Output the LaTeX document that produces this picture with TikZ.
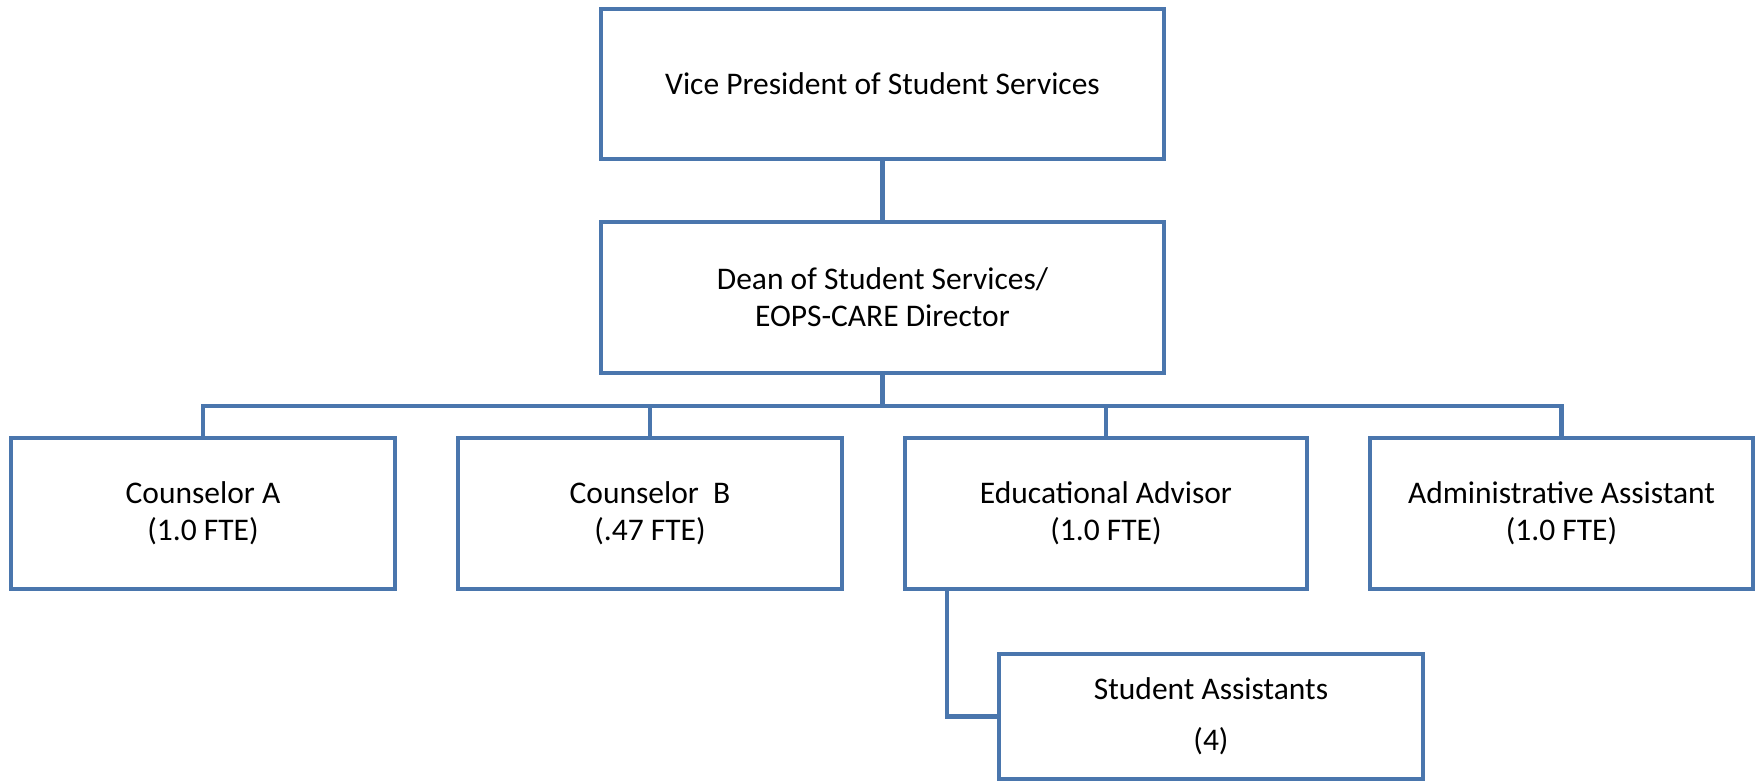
\documentclass[tikz,border=0pt]{standalone}
\usepackage{fontspec}
\setmainfont{Carlito}
\definecolor{orgblue}{RGB}{74,118,173}
\begin{document}
\begin{tikzpicture}[x=1pt,y=-1pt,
  box/.style={draw=orgblue, line width=4.5pt, fill=white, align=center,
    font=\fontsize{31.5}{37}\selectfont, inner sep=0pt, line join=miter},
  conn/.style={draw=orgblue, line width=4.5pt, line join=miter}]
\useasboundingbox (0,0) rectangle (1758,781);
\node[box, minimum width=563pt, minimum height=150pt] (vp) at (882.5,84) {Vice President of Student Services};
\node[box, minimum width=563pt, minimum height=151pt] (dean) at (882.5,297.5) {Dean of Student Services/\\EOPS-CARE Director};
\node[box, minimum width=384pt, minimum height=151pt] (ca) at (203,513.5) {Counselor A\\(1.0 FTE)};
\node[box, minimum width=384pt, minimum height=151pt] (cb) at (650,513.5) {Counselor\ \ B\\(.47 FTE)};
\node[box, minimum width=402pt, minimum height=151pt] (edu) at (1106,513.5) {Educational Advisor\\(1.0 FTE)};
\node[box, minimum width=383pt, minimum height=151pt] (adm) at (1561.5,513.5) {Administrative Assistant\\(1.0 FTE)};
\node[box, minimum width=424pt, minimum height=125pt] (sa) at (1211,716.5) {Student Assistants\\[14pt](4)};
\coordinate (bus) at (882.5,406);
\coordinate (eduout) at (947,589);
\draw[conn] (vp.south) -- (dean.north);
\draw[conn] (dean.south) -- (bus);
\draw[conn] (ca.north) |- (bus) -| (adm.north);
\draw[conn] (cb.north) -- (cb.north |- bus);
\draw[conn] (edu.north) -- (edu.north |- bus);
\draw[conn] (eduout) |- (sa.west);
\end{tikzpicture}
\end{document}
